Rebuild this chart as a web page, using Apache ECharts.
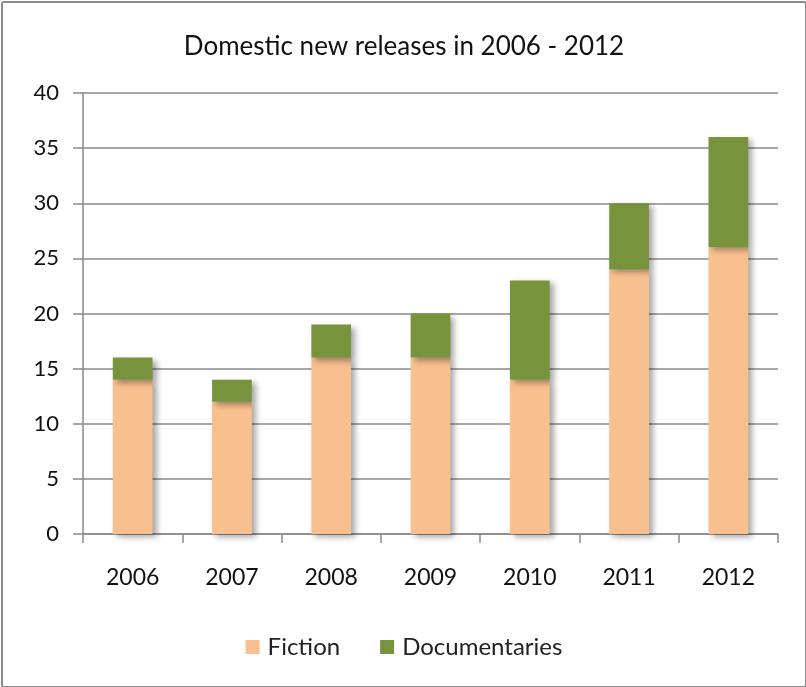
<!DOCTYPE html>
<html>
<head>
<meta charset="utf-8">
<script src="https://cdn.jsdelivr.net/npm/echarts@6/dist/echarts.min.js"></script>
<style>
  html,body{margin:0;padding:0;background:#fff;}
  #main{position:absolute;left:1px;top:1px;width:802px;height:683px;border:2px solid #8c8c8c;border-radius:3px;box-sizing:content-box;}
</style>
</head>
<body>
<div id="main"></div>
<script>
// 数据
var years = ['2006','2007','2008','2009','2010','2011','2012'];
var fiction = [14, 12, 16, 16, 14, 24, 26];
var documentaries = [2, 2, 3, 4, 9, 6, 10];
var yTicks = [0, 5, 10, 15, 20, 25, 30, 35, 40];

var font = 'Lato, "Open Sans", sans-serif';
var shadow = {shadowBlur: 6, shadowOffsetX: 4, shadowOffsetY: 3, shadowColor: 'rgba(0,0,0,0.35)'};

var myChart = echarts.init(document.getElementById('main'));
var option = {
    animation: false,
    title: {
        text: 'Domestic new releases in 2006 - 2012',
        left: 'center',
        top: 26,
        textStyle: {fontFamily: font, fontSize: 26, fontWeight: 'normal', color: '#111'}
    },
    legend: {
        bottom: 22,
        left: 'center',
        itemWidth: 14,
        itemHeight: 14,
        itemGap: 40,
        icon: 'rect',
        textStyle: {fontFamily: font, fontSize: 24, color: '#222', padding: [0, 0, 0, 3]},
        data: ['Fiction', 'Documentaries']
    },
    grid: {left: 80, right: 27, top: 90, bottom: 152},
    xAxis: {
        type: 'category',
        data: years,
        axisLine: {lineStyle: {color: '#8a8a8a', width: 1.5}},
        axisTick: {show: true, length: 9, lineStyle: {color: '#8a8a8a', width: 1.5}},
        axisLabel: {margin: 32, fontFamily: font, fontSize: 23, color: '#111'}
    },
    yAxis: {
        type: 'value',
        min: yTicks[0],
        max: yTicks[yTicks.length - 1],
        interval: 5,
        axisLine: {show: true, lineStyle: {color: '#8a8a8a', width: 1.5}},
        axisTick: {show: true, length: 10, lineStyle: {color: '#8a8a8a', width: 1.5}},
        axisLabel: {margin: 24, fontFamily: font, fontSize: 22, color: '#111'},
        splitLine: {lineStyle: {color: '#8a8a8a', width: 1.5}}
    },
    series: [
        {
            name: 'Fiction',
            type: 'bar',
            stack: 'total',
            barWidth: '40%',
            data: fiction,
            itemStyle: Object.assign({color: '#F9C08F'}, shadow)
        },
        {
            name: 'Documentaries',
            type: 'bar',
            stack: 'total',
            barWidth: '40%',
            data: documentaries,
            itemStyle: Object.assign({color: '#77933C'}, shadow)
        }
    ]
};
myChart.setOption(option);
</script>
</body>
</html>
